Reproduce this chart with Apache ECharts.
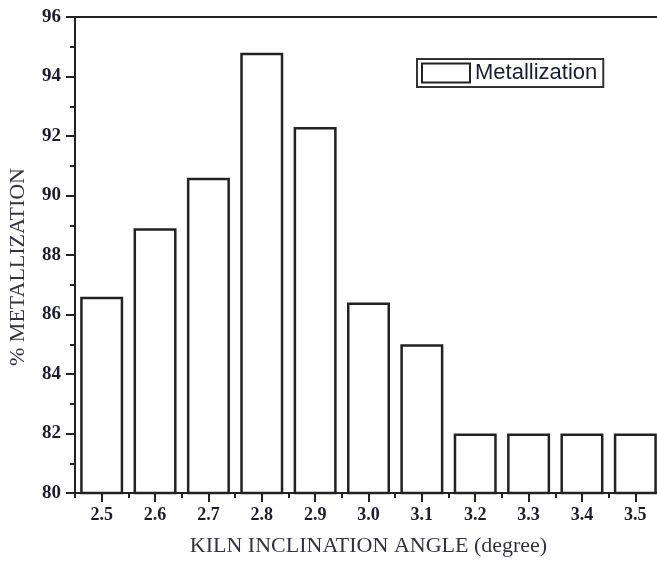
<!DOCTYPE html>
<html>
<head>
<meta charset="utf-8">
<script src="https://cdn.jsdelivr.net/npm/echarts@6/dist/echarts.min.js"></script>
<style>
html,body{margin:0;padding:0;background:#fff;}
#chart{width:657px;height:562px;}
</style>
</head>
<body>
<div id="chart"></div>
<script>
const categories = ['2.5','2.6','2.7','2.8','2.9','3.0','3.1','3.2','3.3','3.4','3.5'];
const metallization = [86.6, 88.9, 90.6, 94.8, 92.3, 86.4, 85.0, 82.0, 82.0, 82.0, 82.0];
const seriesName = 'Metallization';
const xTitle = 'KILN INCLINATION ANGLE (degree)';
const yTitle = '% METALLIZATION';

const chart = echarts.init(document.getElementById('chart'), null, {renderer:'canvas'});
const labelColor = '#1c1c2c';
const axisColor = '#222';
chart.setOption({
  animation: false,
  backgroundColor: '#fff',
  grid: {left: 75, top: 17, width: 587, height: 476, outerBoundsMode: 'none', containLabel: false, show: true, borderColor: axisColor, borderWidth: 2, backgroundColor: 'transparent'},
  legend: {
    show: true,
    left: 417, top: 59,
    data: [seriesName],
    itemWidth: 48, itemHeight: 19,
    itemGap: 5,
    padding: [3, 6, 3, 4],
    borderColor: '#333', borderWidth: 2,
    textStyle: {fontFamily: 'Liberation Sans, Arial, sans-serif', fontSize: 22, color: '#1c1c30', padding: [0,0,0,0]},
    icon: 'rect'
  },
  xAxis: [{
    type: 'category',
    data: categories,
    position: 'bottom',
    boundaryGap: true,
    axisLine: {show: true, lineStyle: {color: axisColor, width: 2}},
    axisTick: {show: true, alignWithLabel: true, length: 9, lineStyle: {color: axisColor, width: 2}},
    axisLabel: {show: true, margin: 13, fontFamily: 'Liberation Serif, Times New Roman, serif', fontWeight: 'bold', fontSize: 18, color: labelColor},
    splitLine: {show: false},
    name: xTitle,
    nameLocation: 'middle',
    nameGap: 42,
    nameTextStyle: {fontFamily: 'Liberation Serif, Times New Roman, serif', fontSize: 22, color: '#333340'}
  }, {
    type: 'category',
    data: categories,
    position: 'bottom',
    boundaryGap: true,
    axisLine: {show: false},
    axisTick: {show: true, alignWithLabel: false, length: 5, lineStyle: {color: axisColor, width: 2}},
    axisLabel: {show: false},
    splitLine: {show: false}
  }],
  yAxis: {
    type: 'value',
    min: 80, max: 96, interval: 2,
    axisLine: {show: true, lineStyle: {color: axisColor, width: 2}},
    axisTick: {show: true, length: 9, lineStyle: {color: axisColor, width: 2}},
    minorTick: {show: true, splitNumber: 2, length: 5, lineStyle: {color: axisColor, width: 2}},
    splitLine: {show: false},
    axisLabel: {margin: 14, fontFamily: 'Liberation Serif, Times New Roman, serif', fontWeight: 'bold', fontSize: 19, color: labelColor},
    name: yTitle,
    nameLocation: 'middle',
    nameGap: 46,
    nameTextStyle: {fontFamily: 'Liberation Serif, Times New Roman, serif', fontSize: 22, color: '#333340', padding: [0, 24, 0, 0]}
  },
  series: [{
    name: seriesName,
    type: 'bar',
    xAxisIndex: 0,
    data: metallization,
    barWidth: 43,
    itemStyle: {color: '#fff', borderColor: '#222', borderWidth: 2.5}
  }]
});
</script>
</body>
</html>
